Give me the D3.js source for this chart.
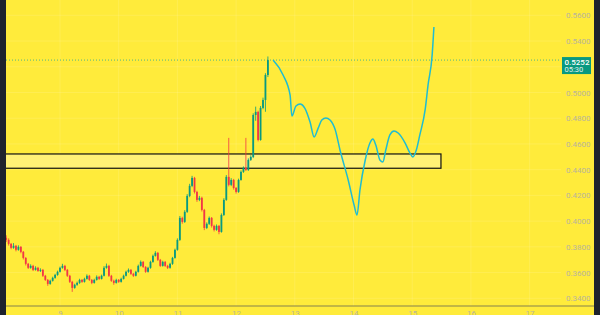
<!DOCTYPE html>
<html lang="en">
<head>
<meta charset="utf-8">
<script src="https://d3js.org/d3.v7.min.js"></script>
<title>Candles</title>
<style>
  body { margin: 0; background: #1e222d; }
  svg { display: block; }
</style>
</head>
<body>
<div id="chart"></div>
<script>

// hourly candles, first one at day 8, 02:00
const firstOpen = 0.3870;
const closes = [
  0.3854,0.3823,0.3792,0.3808,0.3777,0.3800,0.3761,0.3714,0.3668,0.3637,
  0.3652,0.3621,0.3637,0.3613,0.3621,0.3575,0.3543,0.3512,0.3536,0.3559,
  0.3582,0.3606,0.3637,0.3652,0.3621,0.3575,0.3528,0.3481,0.3505,0.3520,
  0.3543,0.3528,0.3551,0.3575,0.3543,0.3520,0.3543,0.3567,0.3551,0.3575,
  0.3637,0.3652,0.3575,0.3536,0.3520,0.3543,0.3528,0.3551,0.3575,0.3606,
  0.3621,0.3590,0.3575,0.3606,0.3652,0.3683,0.3644,0.3606,0.3637,0.3683,
  0.3730,0.3753,0.3699,0.3652,0.3683,0.3652,0.3637,0.3668,0.3714,0.3777,
  0.3854,0.4025,0.3994,0.4072,0.4196,0.4274,0.4336,0.4227,0.4165,0.4181,
  0.4087,0.3947,0.3979,0.4025,0.3963,0.3932,0.3963,0.3916,0.4048,0.4165,
  0.4344,0.4282,0.4320,0.4258,0.4227,0.4320,0.4383,0.4414,0.4398,0.4476,
  0.4499,0.4825,0.4849,0.4631,0.4880,0.4942,0.5136,0.5252
];
const highs = [
  0.3890,0.3866,0.3830,0.3829,0.3815,0.3812,0.3806,0.3768,0.3720,0.3675,
  0.3664,0.3660,0.3649,0.3644,0.3633,0.3628,0.3582,0.3550,0.3545,0.3568,
  0.3590,0.3615,0.3646,0.3668,0.3660,0.3628,0.3582,0.3536,0.3513,0.3530,
  0.3552,0.3550,0.3560,0.3586,0.3582,0.3550,0.3552,0.3578,0.3574,0.3584,
  0.3650,0.3670,0.3660,0.3582,0.3545,0.3552,0.3550,0.3560,0.3584,0.3615,
  0.3632,0.3628,0.3598,0.3614,0.3662,0.3694,0.3690,0.3650,0.3645,0.3692,
  0.3740,0.3766,0.3760,0.3706,0.3692,0.3690,0.3660,0.3676,0.3722,0.3786,
  0.3866,0.4040,0.4034,0.4085,0.4210,0.4290,0.4352,0.4344,0.4236,0.4196,
  0.4190,0.4095,0.3990,0.4036,0.4032,0.3972,0.3974,0.3970,0.4060,0.4178,
  0.4358,0.4647,0.4334,0.4328,0.4265,0.4330,0.4394,0.4425,0.4647,0.4488,
  0.4512,0.4838,0.4890,0.4858,0.4895,0.4960,0.5150,0.5280
];
const lows = [
  0.3838,0.3810,0.3781,0.3785,0.3765,0.3770,0.3750,0.3702,0.3655,0.3628,
  0.3630,0.3612,0.3615,0.3606,0.3604,0.3566,0.3535,0.3497,0.3505,0.3530,
  0.3552,0.3575,0.3600,0.3630,0.3612,0.3566,0.3519,0.3450,0.3474,0.3497,
  0.3512,0.3520,0.3522,0.3545,0.3535,0.3510,0.3514,0.3538,0.3543,0.3546,
  0.3570,0.3630,0.3566,0.3528,0.3505,0.3514,0.3520,0.3522,0.3546,0.3570,
  0.3598,0.3582,0.3566,0.3570,0.3600,0.3646,0.3636,0.3598,0.3600,0.3630,
  0.3676,0.3724,0.3690,0.3644,0.3646,0.3644,0.3628,0.3630,0.3660,0.3708,
  0.3770,0.3846,0.3980,0.3986,0.4064,0.4186,0.4264,0.4215,0.4150,0.4155,
  0.4075,0.3930,0.3938,0.3970,0.3950,0.3920,0.3925,0.3898,0.3910,0.4040,
  0.4158,0.4270,0.4272,0.4245,0.4214,0.4220,0.4314,0.4375,0.4390,0.4390,
  0.4468,0.4490,0.4780,0.4620,0.4625,0.4870,0.4850,0.5120
];

// hand drawn projection (day of month, price)
const projDay = [12.63,12.80,12.92,12.95,13.02,13.09,13.17,13.26,13.33,13.40,
  13.46,13.53,13.60,13.69,13.77,13.91,14.01,14.06,14.11,14.20,
  14.28,14.33,14.38,14.45,14.50,14.55,14.62,14.69,14.76,14.88,
  14.96,15.01,15.07,15.13,15.22,15.27,15.34,15.37];
const projPrice = [0.5252,0.5136,0.4980,0.4817,0.4895,0.4910,0.4879,0.4770,0.4654,0.4725,
  0.4786,0.4802,0.4786,0.4708,0.4553,0.4320,0.4125,0.4047,0.4242,0.4475,
  0.4607,0.4638,0.4591,0.4475,0.4460,0.4553,0.4670,0.4701,0.4685,0.4607,
  0.4530,0.4499,0.4553,0.4670,0.4864,0.5058,0.5291,0.5509];

// support zone
const zoneTop = 0.4522, zoneBottom = 0.4411;
const zoneFrom = 7.9, zoneTo = 15.49;

const priceTicks = [0.34,0.36,0.38,0.40,0.42,0.44,0.46,0.48,0.50,0.54,0.56];
const dayTicks = [9,10,11,12,13,14,15,16,17];
const lastPrice = 0.5252, countdown = "05:30";

const W = 600, H = 315;
const plotLeft = 6, plotRight = 561, axisY = 306;

const x = d3.scaleLinear().domain([9, 17]).range([60, 529.6]);
const y = d3.scaleLinear().domain([0.34, 0.56]).range([298.3, 15.3]);

const candles = closes.map((c, i) => ({
  t: 8 + (2 + i) / 24,
  o: i === 0 ? firstOpen : closes[i - 1],
  h: highs[i], l: lows[i], c: c
}));

const svg = d3.select("#chart").append("svg")
  .attr("width", W).attr("height", H);

svg.append("rect").attr("width", W).attr("height", H).attr("fill", "#ffeb3b");

svg.append("clipPath").attr("id", "plot")
  .append("rect").attr("x", plotLeft).attr("y", 0)
  .attr("width", plotRight - plotLeft).attr("height", axisY);

const plot = svg.append("g").attr("clip-path", "url(#plot)");

// faint grid
plot.selectAll(".vg").data(dayTicks).join("line")
  .attr("x1", d => x(d)).attr("x2", d => x(d))
  .attr("y1", 0).attr("y2", axisY)
  .attr("stroke", "#ffffff").attr("stroke-opacity", 0.12);
plot.selectAll(".hg").data(priceTicks.concat([0.52])).join("line")
  .attr("x1", plotLeft).attr("x2", plotRight)
  .attr("y1", d => y(d)).attr("y2", d => y(d))
  .attr("stroke", "#ffffff").attr("stroke-opacity", 0.12);

// zone box
plot.append("rect")
  .attr("x", x(zoneFrom)).attr("y", y(zoneTop))
  .attr("width", x(zoneTo) - x(zoneFrom))
  .attr("height", y(zoneBottom) - y(zoneTop))
  .attr("fill", "#fff176").attr("stroke", "#111").attr("stroke-width", 1.2);

// last price line
plot.append("line")
  .attr("x1", plotLeft).attr("x2", plotRight)
  .attr("y1", y(lastPrice)).attr("y2", y(lastPrice))
  .attr("stroke", "#26a69a").attr("stroke-dasharray", "1,2").attr("stroke-opacity", 0.8);

// candles
const up = "#089981", down = "#f23645";
const bw = 1.8;
const cg = plot.selectAll(".candle").data(candles).join("g");
cg.append("line")
  .attr("x1", d => x(d.t)).attr("x2", d => x(d.t))
  .attr("y1", d => y(d.h)).attr("y2", d => y(d.l))
  .attr("stroke", d => d.c >= d.o ? up : down).attr("stroke-width", 0.8);
cg.append("rect")
  .attr("x", d => x(d.t) - bw / 2)
  .attr("y", d => y(Math.max(d.o, d.c)))
  .attr("width", bw)
  .attr("height", d => Math.max(1, Math.abs(y(d.o) - y(d.c))))
  .attr("fill", d => d.c >= d.o ? up : down);

// projection
plot.append("path")
  .datum(projDay.map((d, i) => [d, projPrice[i]]))
  .attr("d", d3.line().x(d => x(d[0])).y(d => y(d[1])).curve(d3.curveMonotoneX))
  .attr("fill", "none").attr("stroke", "#1fbcd2").attr("stroke-width", 1.5);

// price axis
const yAxis = svg.append("g")
  .attr("transform", "translate(564,0)")
  .call(d3.axisRight(y).tickValues(priceTicks).tickSize(0).tickFormat(d3.format(".4f")));
yAxis.select(".domain").remove();
yAxis.selectAll("text")
  .attr("x", 2).attr("font-family", "Roboto, sans-serif").attr("font-size", 8)
  .attr("fill", "#b9b59a");

// time axis
svg.append("line")
  .attr("x1", plotLeft).attr("x2", W).attr("y1", axisY).attr("y2", axisY)
  .attr("stroke", "#85814f").attr("stroke-width", 1);
const xAxis = svg.append("g")
  .attr("transform", `translate(0,${axisY})`)
  .call(d3.axisBottom(x).tickValues(dayTicks).tickSize(0).tickFormat(d3.format("d")));
xAxis.select(".domain").remove();
xAxis.selectAll("text")
  .attr("y", 4.5).attr("font-family", "Roboto, sans-serif").attr("font-size", 8)
  .attr("fill", "#b9b59a");

// last price tag
const tag = svg.append("g").attr("transform", `translate(562,${y(lastPrice) - 3})`);
tag.append("rect").attr("width", 29).attr("height", 17).attr("fill", "#089981");
tag.append("text").attr("x", 2.5).attr("y", 7.5).text(d3.format(".4f")(lastPrice))
  .attr("font-family", "Roboto, sans-serif").attr("font-size", 8).attr("font-weight", 500)
  .attr("fill", "#fff");
tag.append("text").attr("x", 2.5).attr("y", 15).text(countdown)
  .attr("font-family", "Roboto, sans-serif").attr("font-size", 7.5)
  .attr("fill", "#e0f2ef");

// dark frame edges
svg.append("rect").attr("x", 0).attr("y", 0).attr("width", plotLeft).attr("height", H).attr("fill", "#1e222d");
svg.append("rect").attr("x", 594).attr("y", 0).attr("width", 6).attr("height", H).attr("fill", "#1e222d");

</script>
</body>
</html>
